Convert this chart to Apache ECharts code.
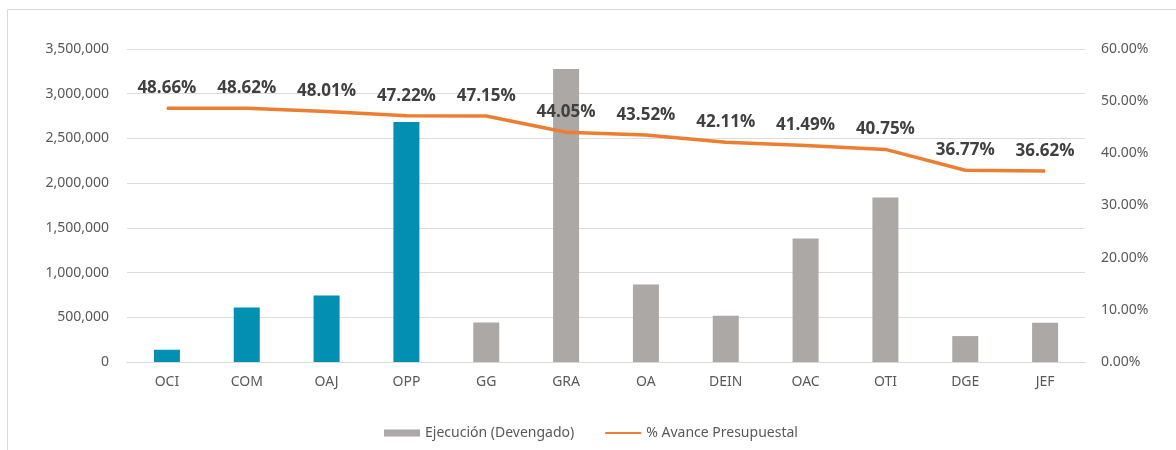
<!DOCTYPE html>
<html>
<head>
<meta charset="utf-8">
<script src="https://cdn.jsdelivr.net/npm/echarts@6/dist/echarts.min.js"></script>
<style>
  html, body { margin: 0; padding: 0; background: #fff; }
  #chart { width: 1176px; height: 450px; }
</style>
</head>
<body>
<div id="chart"></div>
<script>
// datos
var areas = ['OCI', 'COM', 'OAJ', 'OPP', 'GG', 'GRA', 'OA', 'DEIN', 'OAC', 'OTI', 'DGE', 'JEF'];
var ejecucion = [137000, 610000, 743000, 2683000, 442000, 3277000, 866000, 516000, 1382000, 1839000, 290000, 438000];
var avance = [48.66, 48.62, 48.01, 47.22, 47.15, 44.05, 43.52, 42.11, 41.49, 40.75, 36.77, 36.62];
var destacadas = ['OCI', 'COM', 'OAJ', 'OPP']; // barras en azul

var AZUL = '#0090b2';
var GRIS = '#aca8a6';
var NARANJA = '#ed7d31';
var TEXTO = '#595959';

var chart = echarts.init(document.getElementById('chart'));

var option = {
  animation: false,
  textStyle: { fontFamily: 'Noto Sans' },
  graphic: [{
    type: 'rect',
    shape: { x: 7.5, y: 9.5, width: 1400, height: 700 },
    style: { fill: 'none', stroke: '#d9d9d9', lineWidth: 1 },
    silent: true
  }],
  grid: { left: 127, right: 91, top: 49, bottom: 88 },
  legend: {
    left: 379,
    top: 421,
    itemWidth: 36,
    itemHeight: 7,
    itemGap: 30,
    textStyle: { color: TEXTO, fontSize: 14 },
    data: [
      { name: 'Ejecución (Devengado)', icon: 'rect', itemStyle: { color: GRIS } },
      { name: '% Avance Presupuestal', itemStyle: { opacity: 0 } }
    ]
  },
  xAxis: {
    type: 'category',
    data: areas,
    axisTick: { show: false },
    axisLine: { lineStyle: { color: '#d9d9d9' } },
    axisLabel: { color: TEXTO, fontSize: 14, margin: 13 }
  },
  yAxis: [
    {
      type: 'value',
      min: 0,
      max: 3500000,
      interval: 500000,
      axisLine: { show: false },
      axisTick: { show: false },
      splitLine: { lineStyle: { color: '#dcdcdc' } },
      axisLabel: {
        color: TEXTO, fontSize: 14, margin: 18,
        formatter: function (v) { return v.toLocaleString('en-US'); }
      }
    },
    {
      type: 'value',
      min: 0,
      max: 60,
      interval: 10,
      axisLine: { show: false },
      axisTick: { show: false },
      splitLine: { show: false },
      axisLabel: {
        color: TEXTO, fontSize: 14, margin: 16,
        formatter: function (v) { return v.toFixed(2) + '%'; }
      }
    }
  ],
  series: [
    {
      name: 'Ejecución (Devengado)',
      type: 'bar',
      barWidth: 26,
      itemStyle: { color: GRIS },
      data: ejecucion.map(function (v, i) {
        return {
          value: v,
          itemStyle: { color: destacadas.indexOf(areas[i]) >= 0 ? AZUL : GRIS }
        };
      })
    },
    {
      name: '% Avance Presupuestal',
      type: 'line',
      yAxisIndex: 1,
      symbol: 'circle',
      symbolSize: 1,
      color: NARANJA,
      lineStyle: { color: NARANJA, width: 3.5 },
      label: {
        show: true,
        position: 'top',
        distance: 11,
        color: '#404040',
        fontWeight: 'bold',
        fontSize: 17,
        fontFamily: 'Open Sans',
        formatter: function (p) { return p.value.toFixed(2) + '%'; }
      },
      data: avance
    }
  ]
};

chart.setOption(option);
</script>
</body>
</html>
